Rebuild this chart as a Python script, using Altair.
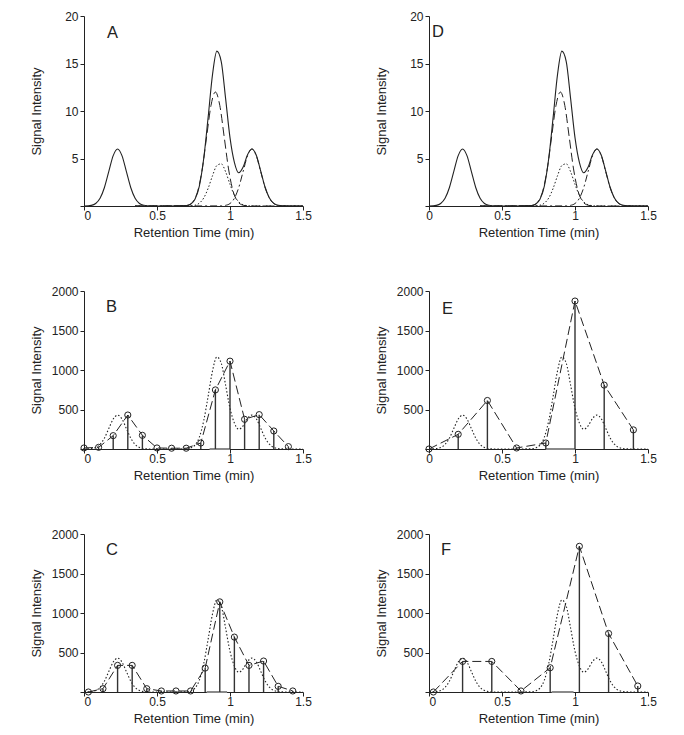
import altair as alt
import pandas as pd

FONT = "Liberation Sans"
INK = "#222222"

# ---------------- Panel A / D : simulated chromatogram (signal units) ----------------
total_x = [0.00, 0.05, 0.08, 0.11, 0.14, 0.17, 0.20, 0.23, 0.26, 0.29, 0.32, 0.35, 0.38, 0.41, 0.45,
           0.60, 0.70, 0.73, 0.76, 0.79, 0.82, 0.85, 0.88, 0.91, 0.94, 0.97, 1.00, 1.03, 1.06, 1.09,
           1.12, 1.15, 1.18, 1.21, 1.24, 1.27, 1.30, 1.33, 1.36, 1.40, 1.50]
total_y = [0, 0.07, 0.26, 0.81, 1.95, 3.64, 5.3, 6.0, 5.3, 3.64, 1.95, 0.81, 0.26, 0.07, 0,
           0, 0.04, 0.18, 0.7, 2.1, 5.0, 9.3, 13.8, 16.3, 15.2, 11.3, 7.2, 4.6, 3.5, 4.1,
           5.4, 6.0, 5.35, 3.7, 2.0, 0.85, 0.28, 0.07, 0.015, 0, 0]

comp_big_x = [0.35, 0.69, 0.72, 0.75, 0.78, 0.81, 0.84, 0.87, 0.90, 0.93, 0.96, 0.99, 1.02, 1.05,
              1.08, 1.11, 1.14, 1.50]
comp_big_y = [0, 0.03, 0.13, 0.53, 1.62, 3.9, 7.3, 10.6, 12.0, 10.6, 7.3, 3.9, 1.62, 0.53,
              0.13, 0.03, 0, 0]

comp_small_x = [0.35, 0.70, 0.73, 0.76, 0.79, 0.82, 0.85, 0.88, 0.91, 0.94, 0.97, 1.00, 1.03,
                1.06, 1.09, 1.12, 1.15, 1.50]
comp_small_y = [0, 0.01, 0.02, 0.08, 0.30, 0.84, 1.85, 3.18, 4.26, 4.44, 3.60, 2.28, 1.12,
                0.43, 0.13, 0.03, 0.0, 0]

comp_late_x = [0.35, 0.94, 0.97, 1.00, 1.03, 1.06, 1.09, 1.12, 1.15, 1.18, 1.21, 1.24, 1.27,
               1.30, 1.33, 1.36, 1.50]
comp_late_y = [0, 0.01, 0.07, 0.26, 0.81, 1.95, 3.64, 5.29, 6.0, 5.29, 3.64, 1.95, 0.81,
               0.26, 0.07, 0.01, 0]

# ---------------- Panels B, C, E, F : continuous signal (dotted) ----------------
signal_x = total_x
signal_y = [0, 5, 19, 58, 139, 260, 379, 429, 379, 260, 139, 58, 19, 5, 0,
            0, 3, 13, 50, 150, 358, 665, 987, 1165, 1087, 808, 515, 329, 250, 293,
            386, 429, 383, 265, 143, 61, 20, 5, 1, 0, 0]

# sampled points (circles + stems)
B_x = [0.0, 0.1, 0.2, 0.3, 0.4, 0.5, 0.6, 0.7, 0.8, 0.9, 1.0, 1.1, 1.2, 1.3, 1.4]
B_y = [13, 21, 169, 430, 173, 13, 10, 10, 76, 748, 1112, 376, 435, 228, 30]

C_x = [0.03, 0.13, 0.23, 0.33, 0.43, 0.53, 0.63, 0.73, 0.83, 0.93, 1.03, 1.13, 1.23, 1.33, 1.43]
C_y = [0, 42, 337, 337, 42, 13, 13, 13, 303, 1141, 695, 337, 392, 72, 13]

E_x = [0.0, 0.2, 0.4, 0.6, 0.8, 1.0, 1.2, 1.4]
E_y = [0, 186, 614, 13, 76, 1873, 809, 242]

F_x = [0.03, 0.23, 0.43, 0.63, 0.83, 1.03, 1.23, 1.43]
F_y = [0, 387, 387, 13, 307, 1844, 741, 76]

# faint grey baseline segments visible under the main peak
baseline_seg = {"B": (0.86, 1.0), "C": (0.84, 0.98), "E": (0.80, 1.0), "F": (0.84, 0.99)}

x_ticks = [0, 0.5, 1, 1.5]
y_ticks_top = [0, 5, 10, 15, 20]
y_ticks_bot = [0, 500, 1000, 1500, 2000]

PLOT_W = 219


def df(xs, ys):
    return pd.DataFrame({"x": xs, "y": ys})


def x_enc(flush0):
    align = {"condition": {"test": "datum.value === 0", "value": "left"}, "value": "center"} if flush0 else "center"
    return alt.X("x:Q", scale=alt.Scale(domain=[0, 1.5], nice=False, zero=False),
                 axis=alt.Axis(values=x_ticks, format="~g", title="Retention Time (min)",
                               tickSize=4, labelPadding=0, titlePadding=5,
                               labelFlush=False, labelAlign=align, grid=False))


def y_enc(ticks):
    return alt.Y("y:Q", scale=alt.Scale(domain=[ticks[0], ticks[-1]], nice=False),
                 axis=alt.Axis(values=ticks, format="d",
                               labelExpr="datum.value == 0 ? '' : datum.label",
                               title="Signal Intensity", tickSize=4, labelPadding=2,
                               titlePadding=8, minExtent=33, grid=False))


def letter_layer(letter, dx, dy):
    return alt.Chart(pd.DataFrame({"t": [letter]})).mark_text(
        align="left", baseline="alphabetic", fontSize=16.5, font=FONT, color=INK
    ).encode(text="t:N", x=alt.value(dx), y=alt.value(dy))


def top_panel(letter, dx, dy, flush0):
    xe = x_enc(flush0)
    ye = y_enc(y_ticks_top)
    big = alt.Chart(df(comp_big_x, comp_big_y)).mark_line(
        color=INK, strokeWidth=1, strokeDash=[9, 4], interpolate="monotone").encode(x=xe, y=ye)
    small = alt.Chart(df(comp_small_x, comp_small_y)).mark_line(
        color=INK, strokeWidth=1, strokeDash=[1.5, 2], interpolate="monotone").encode(x=xe, y=ye)
    late = alt.Chart(df(comp_late_x, comp_late_y)).mark_line(
        color=INK, strokeWidth=1, strokeDash=[7, 3, 2, 3], interpolate="monotone").encode(x=xe, y=ye)
    tot = alt.Chart(df(total_x, total_y)).mark_line(
        color=INK, strokeWidth=1.1, interpolate="monotone").encode(x=xe, y=ye)
    return alt.layer(big, small, late, tot, letter_layer(letter, dx, dy)).properties(
        width=PLOT_W, height=190)


def sample_panel(letter, dx, dy, xs, ys, seg, flush0):
    xe = x_enc(flush0)
    ye = y_enc(y_ticks_bot)
    sig = alt.Chart(df(signal_x, signal_y)).mark_line(
        color=INK, strokeWidth=1.1, strokeDash=[1.5, 2], interpolate="monotone").encode(x=xe, y=ye)
    base = alt.Chart(pd.DataFrame({"x": [seg[0]], "x2": [seg[1]], "y": [0]})).mark_rule(
        color="#8a8a8a", strokeWidth=2).encode(x=xe, x2="x2:Q", y=ye)
    stems = alt.Chart(df(xs, ys)).mark_rule(color="#333333", strokeWidth=1.4).encode(
        x=xe, y=ye, y2=alt.datum(0))
    conn = alt.Chart(df(xs, ys)).mark_line(
        color=INK, strokeWidth=1, strokeDash=[9, 4]).encode(x=xe, y=ye)
    pts = alt.Chart(df(xs, ys)).mark_point(
        shape="circle", filled=False, size=38, color=INK, strokeWidth=1, opacity=1).encode(x=xe, y=ye)
    return alt.layer(sig, base, stems, conn, pts, letter_layer(letter, dx, dy)).properties(
        width=PLOT_W, height=158)


pA = top_panel("A", 23, 21.5, True)
pD = top_panel("D", 3, 20.5, False)
pB = sample_panel("B", 22, 21, B_x, B_y, baseline_seg["B"], True)
pE = sample_panel("E", 13, 22.5, E_x, E_y, baseline_seg["E"], False)
pC = sample_panel("C", 22, 20.5, C_x, C_y, baseline_seg["C"], True)
pF = sample_panel("F", 12, 20.5, F_x, F_y, baseline_seg["F"], True)

chart = alt.concat(pA, pD, pB, pE, pC, pF, columns=2, align="each",
                   spacing={"row": 46, "column": 63}).properties(
    padding={"left": 22, "top": 2, "right": 5, "bottom": 5}
).configure_view(stroke=None).configure_axis(
    labelFont=FONT, titleFont=FONT, labelFontSize=12, titleFontSize=13,
    titleFontWeight="normal", labelColor=INK, titleColor=INK,
    domainColor=INK, tickColor=INK, domainWidth=1, tickWidth=1
)

chart.save("out.html", embed_options={"renderer": "svg", "actions": False})
